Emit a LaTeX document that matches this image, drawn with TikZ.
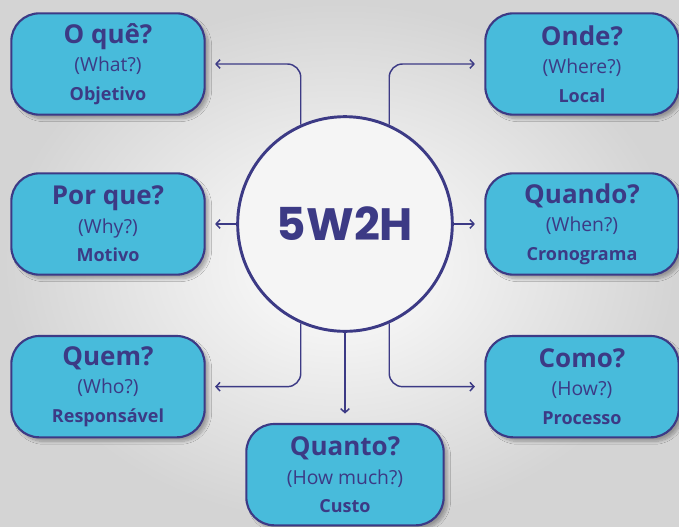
\documentclass[tikz,border=0pt]{standalone}
\usepackage{fontspec}
\setmainfont{Open Sans}
\newfontfamily\hubfont{Poppins}
\usetikzlibrary{arrows.meta,positioning,shadows.blur}
\definecolor{boxcyan}{HTML}{48BBDB}
\definecolor{ink}{HTML}{3C3A85}
\tikzset{question/.style={draw=ink, line width=1.6pt, fill=boxcyan,
    rounded corners=21pt, minimum width=145pt, minimum height=76pt,
    align=center, text=ink, inner sep=0pt,
    font=\fontsize{14.5}{21.5}\selectfont,
    blur shadow={shadow xshift=3pt, shadow yshift=-3pt,
      shadow blur steps=10, shadow opacity=30}},
  hub/.style={circle, draw=ink, line width=2.2pt, fill=black!4,
    minimum size=161pt, text=ink, font=\hubfont\bfseries\fontsize{34}{40}\selectfont},
  link/.style={-{Straight Barb[length=3pt,width=6.5pt]}, draw=ink,
    line width=1.1pt, rounded corners=10pt, shorten >=7pt}
}
\newcommand{\qlines}[3]{{\bfseries\fontsize{19.5}{21.5}\selectfont #1}\\#2\\{\bfseries\fontsize{13.5}{21.5}\selectfont #3}}

\begin{document}
\begin{tikzpicture}[x=1pt, y=1pt, node distance=120pt and 177.75pt, on grid]
    % background
    \useasboundingbox (-258.75,-226.5) rectangle (250.5,168);
    \fill[inner color=white, outer color=black!17] (-258.75,-226.5) rectangle (250.5,168);
    \node[hub] (hub) at (0,0) {5W2H};
    \node[question] (what) [above left=of hub] {\qlines{O quê?}{(What?)}{Objetivo}};
    \node[question] (where) [above right=of hub] {\qlines{Onde?}{(Where?)}{Local}};
    \node[question] (why) [left=of hub] {\qlines{Por que?}{(Why?)}{Motivo}};
    \node[question] (when) [right=of hub] {\qlines{Quando?}{(When?)}{Cronograma}};
    \node[question] (who) [below left=122pt and 177.75pt of hub] {\qlines{Quem?}{(Who?)}{Responsável}};
    \node[question] (how) [below right=122pt and 177.75pt of hub] {\qlines{Como?}{(How?)}{Processo}};
    \node[question, minimum width=148pt] (howmuch) [below=188pt of hub] {\qlines{Quanto?}{(How much?)}{Custo}};
    % connectors
    \draw[link] (hub.114) |- (what);
    \draw[link] (hub.66) |- (where);
    \draw[link] (hub.west) -- (why);
    \draw[link] (hub.east) -- (when);
    \draw[link] (hub.-114) |- (who);
    \draw[link] (hub.-66) |- (how);
    \draw[link] (hub.south) -- (howmuch);
\end{tikzpicture}
\end{document}
